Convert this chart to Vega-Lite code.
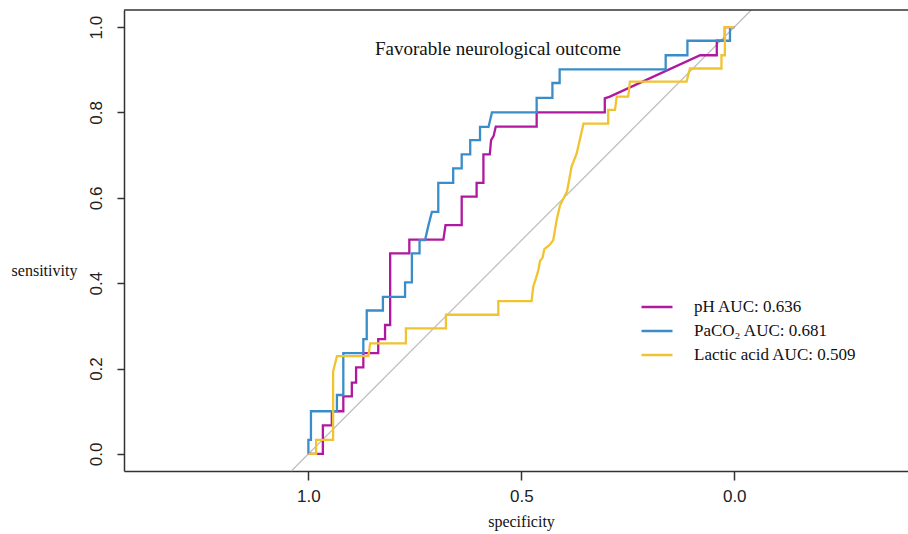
{
  "$schema": "https://vega.github.io/schema/vega-lite/v6.json",
  "width": 784,
  "height": 461,
  "autosize": {"type": "none"},
  "padding": {"left": 124, "top": 10, "right": 0, "bottom": 63},
  "background": "white",
  "config": {
    "view": {"stroke": null},
    "axis": {"grid": false, "domainColor": "#333333", "domainWidth": 1.5, "tickColor": "#333333", "tickWidth": 1.5, "labelColor": "#222222", "titleColor": "#111111"}
  },
  "data": {"values": [
    {"series": "pH AUC: 0.636", "i": 1, "spec": 1.000, "sens": 0.000},
    {"series": "pH AUC: 0.636", "i": 2, "spec": 0.966, "sens": 0.000},
    {"series": "pH AUC: 0.636", "i": 3, "spec": 0.966, "sens": 0.067},
    {"series": "pH AUC: 0.636", "i": 4, "spec": 0.945, "sens": 0.067},
    {"series": "pH AUC: 0.636", "i": 5, "spec": 0.945, "sens": 0.100},
    {"series": "pH AUC: 0.636", "i": 6, "spec": 0.918, "sens": 0.100},
    {"series": "pH AUC: 0.636", "i": 7, "spec": 0.918, "sens": 0.135},
    {"series": "pH AUC: 0.636", "i": 8, "spec": 0.898, "sens": 0.135},
    {"series": "pH AUC: 0.636", "i": 9, "spec": 0.898, "sens": 0.167},
    {"series": "pH AUC: 0.636", "i": 10, "spec": 0.888, "sens": 0.167},
    {"series": "pH AUC: 0.636", "i": 11, "spec": 0.888, "sens": 0.203},
    {"series": "pH AUC: 0.636", "i": 12, "spec": 0.871, "sens": 0.203},
    {"series": "pH AUC: 0.636", "i": 13, "spec": 0.871, "sens": 0.236},
    {"series": "pH AUC: 0.636", "i": 14, "spec": 0.836, "sens": 0.236},
    {"series": "pH AUC: 0.636", "i": 15, "spec": 0.836, "sens": 0.269},
    {"series": "pH AUC: 0.636", "i": 16, "spec": 0.820, "sens": 0.269},
    {"series": "pH AUC: 0.636", "i": 17, "spec": 0.820, "sens": 0.302},
    {"series": "pH AUC: 0.636", "i": 18, "spec": 0.808, "sens": 0.302},
    {"series": "pH AUC: 0.636", "i": 19, "spec": 0.808, "sens": 0.470},
    {"series": "pH AUC: 0.636", "i": 20, "spec": 0.763, "sens": 0.470},
    {"series": "pH AUC: 0.636", "i": 21, "spec": 0.763, "sens": 0.502},
    {"series": "pH AUC: 0.636", "i": 22, "spec": 0.683, "sens": 0.502},
    {"series": "pH AUC: 0.636", "i": 23, "spec": 0.678, "sens": 0.536},
    {"series": "pH AUC: 0.636", "i": 24, "spec": 0.640, "sens": 0.536},
    {"series": "pH AUC: 0.636", "i": 25, "spec": 0.640, "sens": 0.603},
    {"series": "pH AUC: 0.636", "i": 26, "spec": 0.605, "sens": 0.603},
    {"series": "pH AUC: 0.636", "i": 27, "spec": 0.605, "sens": 0.635},
    {"series": "pH AUC: 0.636", "i": 28, "spec": 0.589, "sens": 0.635},
    {"series": "pH AUC: 0.636", "i": 29, "spec": 0.589, "sens": 0.702},
    {"series": "pH AUC: 0.636", "i": 30, "spec": 0.574, "sens": 0.702},
    {"series": "pH AUC: 0.636", "i": 31, "spec": 0.571, "sens": 0.735},
    {"series": "pH AUC: 0.636", "i": 32, "spec": 0.565, "sens": 0.745},
    {"series": "pH AUC: 0.636", "i": 33, "spec": 0.560, "sens": 0.767},
    {"series": "pH AUC: 0.636", "i": 34, "spec": 0.464, "sens": 0.767},
    {"series": "pH AUC: 0.636", "i": 35, "spec": 0.464, "sens": 0.800},
    {"series": "pH AUC: 0.636", "i": 36, "spec": 0.304, "sens": 0.800},
    {"series": "pH AUC: 0.636", "i": 37, "spec": 0.304, "sens": 0.833},
    {"series": "pH AUC: 0.636", "i": 38, "spec": 0.292, "sens": 0.837},
    {"series": "pH AUC: 0.636", "i": 39, "spec": 0.080, "sens": 0.934},
    {"series": "pH AUC: 0.636", "i": 40, "spec": 0.041, "sens": 0.934},
    {"series": "pH AUC: 0.636", "i": 41, "spec": 0.041, "sens": 0.968},
    {"series": "pH AUC: 0.636", "i": 42, "spec": 0.022, "sens": 0.968},
    {"series": "pH AUC: 0.636", "i": 43, "spec": 0.022, "sens": 1.000},
    {"series": "pH AUC: 0.636", "i": 44, "spec": 0.000, "sens": 1.000},

    {"series": "PaCO₂ AUC: 0.681", "i": 1, "spec": 1.000, "sens": 0.000},
    {"series": "PaCO₂ AUC: 0.681", "i": 2, "spec": 1.000, "sens": 0.033},
    {"series": "PaCO₂ AUC: 0.681", "i": 3, "spec": 0.994, "sens": 0.033},
    {"series": "PaCO₂ AUC: 0.681", "i": 4, "spec": 0.994, "sens": 0.100},
    {"series": "PaCO₂ AUC: 0.681", "i": 5, "spec": 0.933, "sens": 0.100},
    {"series": "PaCO₂ AUC: 0.681", "i": 6, "spec": 0.933, "sens": 0.138},
    {"series": "PaCO₂ AUC: 0.681", "i": 7, "spec": 0.918, "sens": 0.138},
    {"series": "PaCO₂ AUC: 0.681", "i": 8, "spec": 0.918, "sens": 0.236},
    {"series": "PaCO₂ AUC: 0.681", "i": 9, "spec": 0.871, "sens": 0.236},
    {"series": "PaCO₂ AUC: 0.681", "i": 10, "spec": 0.871, "sens": 0.269},
    {"series": "PaCO₂ AUC: 0.681", "i": 11, "spec": 0.863, "sens": 0.269},
    {"series": "PaCO₂ AUC: 0.681", "i": 12, "spec": 0.863, "sens": 0.336},
    {"series": "PaCO₂ AUC: 0.681", "i": 13, "spec": 0.825, "sens": 0.336},
    {"series": "PaCO₂ AUC: 0.681", "i": 14, "spec": 0.825, "sens": 0.368},
    {"series": "PaCO₂ AUC: 0.681", "i": 15, "spec": 0.773, "sens": 0.368},
    {"series": "PaCO₂ AUC: 0.681", "i": 16, "spec": 0.773, "sens": 0.402},
    {"series": "PaCO₂ AUC: 0.681", "i": 17, "spec": 0.757, "sens": 0.402},
    {"series": "PaCO₂ AUC: 0.681", "i": 18, "spec": 0.757, "sens": 0.470},
    {"series": "PaCO₂ AUC: 0.681", "i": 19, "spec": 0.739, "sens": 0.470},
    {"series": "PaCO₂ AUC: 0.681", "i": 20, "spec": 0.739, "sens": 0.501},
    {"series": "PaCO₂ AUC: 0.681", "i": 21, "spec": 0.726, "sens": 0.501},
    {"series": "PaCO₂ AUC: 0.681", "i": 22, "spec": 0.718, "sens": 0.536},
    {"series": "PaCO₂ AUC: 0.681", "i": 23, "spec": 0.710, "sens": 0.567},
    {"series": "PaCO₂ AUC: 0.681", "i": 24, "spec": 0.695, "sens": 0.567},
    {"series": "PaCO₂ AUC: 0.681", "i": 25, "spec": 0.695, "sens": 0.635},
    {"series": "PaCO₂ AUC: 0.681", "i": 26, "spec": 0.660, "sens": 0.635},
    {"series": "PaCO₂ AUC: 0.681", "i": 27, "spec": 0.660, "sens": 0.669},
    {"series": "PaCO₂ AUC: 0.681", "i": 28, "spec": 0.640, "sens": 0.669},
    {"series": "PaCO₂ AUC: 0.681", "i": 29, "spec": 0.640, "sens": 0.702},
    {"series": "PaCO₂ AUC: 0.681", "i": 30, "spec": 0.620, "sens": 0.702},
    {"series": "PaCO₂ AUC: 0.681", "i": 31, "spec": 0.620, "sens": 0.735},
    {"series": "PaCO₂ AUC: 0.681", "i": 32, "spec": 0.597, "sens": 0.735},
    {"series": "PaCO₂ AUC: 0.681", "i": 33, "spec": 0.597, "sens": 0.766},
    {"series": "PaCO₂ AUC: 0.681", "i": 34, "spec": 0.577, "sens": 0.766},
    {"series": "PaCO₂ AUC: 0.681", "i": 35, "spec": 0.569, "sens": 0.800},
    {"series": "PaCO₂ AUC: 0.681", "i": 36, "spec": 0.464, "sens": 0.800},
    {"series": "PaCO₂ AUC: 0.681", "i": 37, "spec": 0.464, "sens": 0.834},
    {"series": "PaCO₂ AUC: 0.681", "i": 38, "spec": 0.427, "sens": 0.834},
    {"series": "PaCO₂ AUC: 0.681", "i": 39, "spec": 0.427, "sens": 0.869},
    {"series": "PaCO₂ AUC: 0.681", "i": 40, "spec": 0.410, "sens": 0.869},
    {"series": "PaCO₂ AUC: 0.681", "i": 41, "spec": 0.410, "sens": 0.901},
    {"series": "PaCO₂ AUC: 0.681", "i": 42, "spec": 0.161, "sens": 0.901},
    {"series": "PaCO₂ AUC: 0.681", "i": 43, "spec": 0.161, "sens": 0.934},
    {"series": "PaCO₂ AUC: 0.681", "i": 44, "spec": 0.110, "sens": 0.934},
    {"series": "PaCO₂ AUC: 0.681", "i": 45, "spec": 0.110, "sens": 0.968},
    {"series": "PaCO₂ AUC: 0.681", "i": 46, "spec": 0.010, "sens": 0.968},
    {"series": "PaCO₂ AUC: 0.681", "i": 47, "spec": 0.010, "sens": 1.000},
    {"series": "PaCO₂ AUC: 0.681", "i": 48, "spec": 0.000, "sens": 1.000},

    {"series": "Lactic acid AUC: 0.509", "i": 1, "spec": 1.000, "sens": 0.000},
    {"series": "Lactic acid AUC: 0.509", "i": 2, "spec": 0.982, "sens": 0.000},
    {"series": "Lactic acid AUC: 0.509", "i": 3, "spec": 0.982, "sens": 0.033},
    {"series": "Lactic acid AUC: 0.509", "i": 4, "spec": 0.942, "sens": 0.033},
    {"series": "Lactic acid AUC: 0.509", "i": 5, "spec": 0.942, "sens": 0.193},
    {"series": "Lactic acid AUC: 0.509", "i": 6, "spec": 0.933, "sens": 0.229},
    {"series": "Lactic acid AUC: 0.509", "i": 7, "spec": 0.859, "sens": 0.229},
    {"series": "Lactic acid AUC: 0.509", "i": 8, "spec": 0.855, "sens": 0.259},
    {"series": "Lactic acid AUC: 0.509", "i": 9, "spec": 0.771, "sens": 0.259},
    {"series": "Lactic acid AUC: 0.509", "i": 10, "spec": 0.771, "sens": 0.294},
    {"series": "Lactic acid AUC: 0.509", "i": 11, "spec": 0.677, "sens": 0.294},
    {"series": "Lactic acid AUC: 0.509", "i": 12, "spec": 0.677, "sens": 0.326},
    {"series": "Lactic acid AUC: 0.509", "i": 13, "spec": 0.554, "sens": 0.326},
    {"series": "Lactic acid AUC: 0.509", "i": 14, "spec": 0.554, "sens": 0.358},
    {"series": "Lactic acid AUC: 0.509", "i": 15, "spec": 0.476, "sens": 0.358},
    {"series": "Lactic acid AUC: 0.509", "i": 16, "spec": 0.472, "sens": 0.392},
    {"series": "Lactic acid AUC: 0.509", "i": 17, "spec": 0.466, "sens": 0.410},
    {"series": "Lactic acid AUC: 0.509", "i": 18, "spec": 0.460, "sens": 0.431},
    {"series": "Lactic acid AUC: 0.509", "i": 19, "spec": 0.456, "sens": 0.452},
    {"series": "Lactic acid AUC: 0.509", "i": 20, "spec": 0.450, "sens": 0.460},
    {"series": "Lactic acid AUC: 0.509", "i": 21, "spec": 0.446, "sens": 0.480},
    {"series": "Lactic acid AUC: 0.509", "i": 22, "spec": 0.433, "sens": 0.490},
    {"series": "Lactic acid AUC: 0.509", "i": 23, "spec": 0.425, "sens": 0.501},
    {"series": "Lactic acid AUC: 0.509", "i": 24, "spec": 0.417, "sens": 0.548},
    {"series": "Lactic acid AUC: 0.509", "i": 25, "spec": 0.409, "sens": 0.583},
    {"series": "Lactic acid AUC: 0.509", "i": 26, "spec": 0.393, "sens": 0.614},
    {"series": "Lactic acid AUC: 0.509", "i": 27, "spec": 0.388, "sens": 0.640},
    {"series": "Lactic acid AUC: 0.509", "i": 28, "spec": 0.382, "sens": 0.673},
    {"series": "Lactic acid AUC: 0.509", "i": 29, "spec": 0.370, "sens": 0.704},
    {"series": "Lactic acid AUC: 0.509", "i": 30, "spec": 0.362, "sens": 0.739},
    {"series": "Lactic acid AUC: 0.509", "i": 31, "spec": 0.354, "sens": 0.774},
    {"series": "Lactic acid AUC: 0.509", "i": 32, "spec": 0.296, "sens": 0.774},
    {"series": "Lactic acid AUC: 0.509", "i": 33, "spec": 0.296, "sens": 0.806},
    {"series": "Lactic acid AUC: 0.509", "i": 34, "spec": 0.280, "sens": 0.806},
    {"series": "Lactic acid AUC: 0.509", "i": 35, "spec": 0.276, "sens": 0.837},
    {"series": "Lactic acid AUC: 0.509", "i": 36, "spec": 0.249, "sens": 0.837},
    {"series": "Lactic acid AUC: 0.509", "i": 37, "spec": 0.245, "sens": 0.872},
    {"series": "Lactic acid AUC: 0.509", "i": 38, "spec": 0.112, "sens": 0.872},
    {"series": "Lactic acid AUC: 0.509", "i": 39, "spec": 0.104, "sens": 0.903},
    {"series": "Lactic acid AUC: 0.509", "i": 40, "spec": 0.030, "sens": 0.903},
    {"series": "Lactic acid AUC: 0.509", "i": 41, "spec": 0.030, "sens": 0.934},
    {"series": "Lactic acid AUC: 0.509", "i": 42, "spec": 0.022, "sens": 0.934},
    {"series": "Lactic acid AUC: 0.509", "i": 43, "spec": 0.022, "sens": 1.000},
    {"series": "Lactic acid AUC: 0.509", "i": 44, "spec": 0.000, "sens": 1.000}
  ]},
  "layer": [
    {
      "data": {"values": [{}]},
      "mark": {"type": "rule", "color": "#BDBDBD", "strokeWidth": 1.2},
      "encoding": {
        "x": {"datum": 1.04, "type": "quantitative", "scale": {"domain": [-0.408, 1.433], "reverse": true, "nice": false, "zero": false}},
        "y": {"datum": -0.04, "type": "quantitative", "scale": {"domain": [-0.04, 1.04], "nice": false, "zero": false}},
        "x2": {"datum": -0.04},
        "y2": {"datum": 1.04}
      }
    },
    {
      "data": {"values": [{}]},
      "mark": {"type": "rule", "color": "#333333", "strokeWidth": 1.5},
      "encoding": {
        "y": {"datum": 1.04, "type": "quantitative"}
      }
    },
    {
      "mark": {"type": "line", "strokeWidth": 2.3},
      "encoding": {
        "x": {
          "field": "spec", "type": "quantitative",
          "scale": {"domain": [-0.408, 1.433], "reverse": true, "nice": false, "zero": false},
          "axis": {
            "values": [0, 0.5, 1], "format": ".1f",
            "title": "specificity", "titleFont": "Liberation Serif", "titleFontSize": 16, "titleFontWeight": "normal",
            "titleX": 397, "titleY": 55, "titleAlign": "center", "titleBaseline": "alphabetic",
            "labelFont": "Liberation Sans", "labelFontSize": 17, "labelPadding": 8, "tickSize": 9, "labelFlush": false
          }
        },
        "y": {
          "field": "sens", "type": "quantitative",
          "scale": {"domain": [-0.04, 1.04], "nice": false, "zero": false},
          "axis": {
            "values": [0, 0.2, 0.4, 0.6, 0.8, 1], "format": ".1f",
            "title": "sensitivity", "titleFont": "Liberation Serif", "titleFontSize": 16, "titleFontWeight": "normal",
            "titleAngle": 0, "titleX": -80, "titleY": 260, "titleAlign": "center", "titleBaseline": "middle",
            "labelFont": "Liberation Sans", "labelFontSize": 17, "labelAngle": 270, "labelAlign": "center", "labelBaseline": "alphabetic",
            "labelPadding": 16, "tickSize": 7, "labelFlush": false
          }
        },
        "color": {
          "field": "series", "type": "nominal",
          "scale": {"domain": ["pH AUC: 0.636", "PaCO₂ AUC: 0.681", "Lactic acid AUC: 0.509"], "range": ["#B0199F", "#3A8DC8", "#F0C330"]},
          "legend": {
            "orient": "none", "legendX": 524, "legendY": 288, "title": null,
            "symbolType": "M-2,0H2", "symbolSize": 240, "symbolStrokeWidth": 2.5,
            "labelFont": "Liberation Serif", "labelFontSize": 17, "labelColor": "#111111", "labelOffset": 28, "labelLimit": 0,
            "rowPadding": 7, "padding": 0
          }
        },
        "order": {"field": "i", "type": "quantitative"}
      }
    },
    {
      "data": {"values": [{"label": "Favorable neurological outcome"}]},
      "mark": {"type": "text", "font": "Liberation Serif", "fontSize": 19, "color": "#111111", "align": "center", "baseline": "middle"},
      "encoding": {
        "x": {"datum": 0.555, "type": "quantitative"},
        "y": {"datum": 0.948, "type": "quantitative"},
        "text": {"field": "label"}
      }
    }
  ]
}
